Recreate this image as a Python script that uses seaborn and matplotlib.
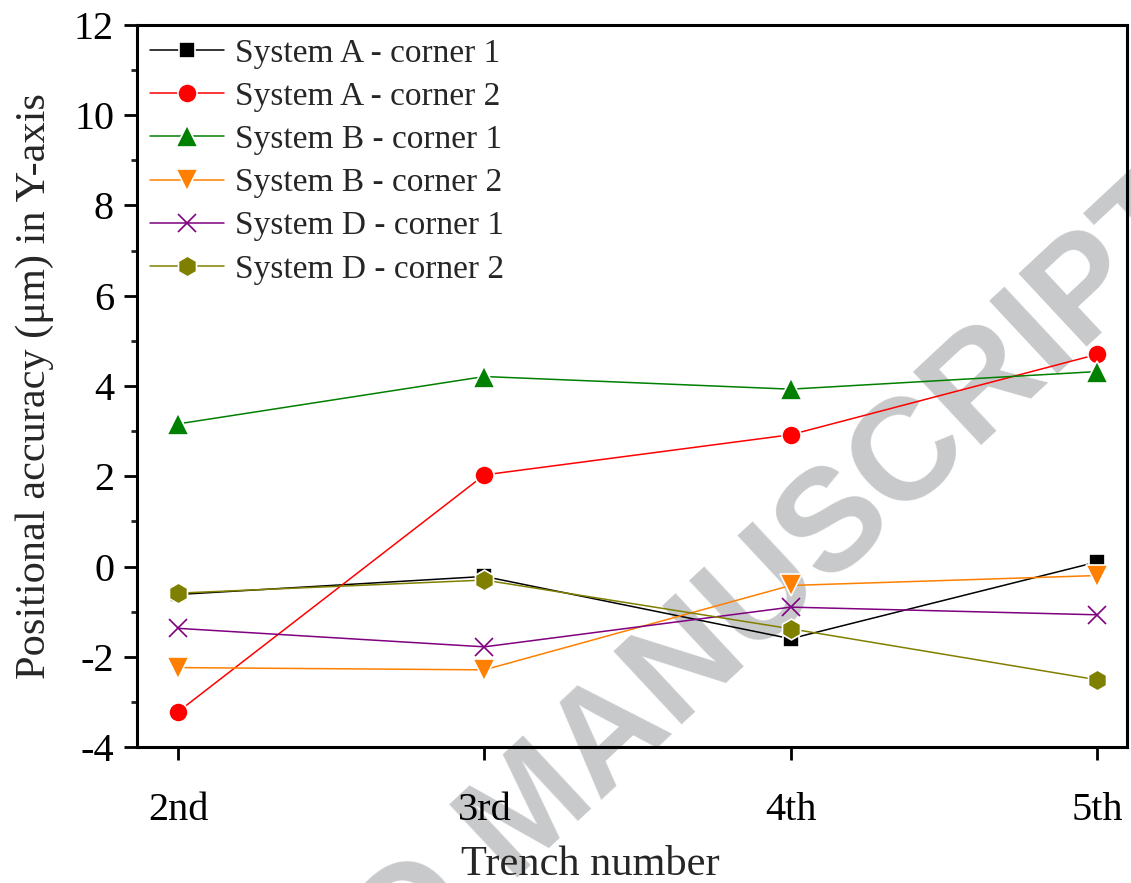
import pandas as pd
import matplotlib
matplotlib.use("Agg")
import matplotlib.pyplot as plt
import seaborn as sns
from matplotlib.ticker import MultipleLocator

# data
trenches = ['2nd', '3rd', '4th', '5th']
sys_a_c1 = [-0.62, -0.22, -1.60, 0.10]
sys_a_c2 = [-3.22, 2.03, 2.92, 4.70]
sys_b_c1 = [3.16, 4.21, 3.93, 4.32]
sys_b_c2 = [-2.24, -2.29, -0.42, -0.20]
sys_d_c1 = [-1.37, -1.78, -0.90, -1.07]
sys_d_c2 = [-0.59, -0.30, -1.38, -2.51]

labels = ['System A - corner 1', 'System A - corner 2', 'System B - corner 1',
          'System B - corner 2', 'System D - corner 1', 'System D - corner 2']
colors = ['#000000', '#ff0000', '#008000', '#ff8000', '#800080', '#808000']
markers = ['s', 'o', '^', 'v', 'x', 'h']
msizes = [12, 13.8, 16.5, 16.5, 13, 15]

series = [sys_a_c1, sys_a_c2, sys_b_c1, sys_b_c2, sys_d_c1, sys_d_c2]

sns.set_style("ticks")
plt.rcParams['font.family'] = ['Liberation Serif', 'DejaVu Serif']

fig = plt.figure(figsize=(11.31, 8.83), dpi=100)
ax = fig.add_axes([0.1211, 0.154, 0.8754, 0.8177])
ax.patch.set_alpha(0)

# watermark behind the plot
fig.text(0.4936, 0.0484, 'ACCEPTED MANUSCRIPT', rotation=43, rotation_mode='anchor',
         ha='center', va='baseline', fontsize=104, fontweight='bold',
         family='Liberation Sans', color='#c8c9cb', zorder=-5)

for vals, lab, col, mk, ms in zip(series, labels, colors, markers, msizes):
    df = pd.DataFrame({'Trench': trenches, 'Value': vals})
    if mk == 'x':
        sns.lineplot(data=df, x='Trench', y='Value', ax=ax, color=col, marker=mk,
                     markersize=ms, markeredgecolor=col, markeredgewidth=1.2,
                     linewidth=1.1, label=lab)
    else:
        sns.lineplot(data=df, x='Trench', y='Value', ax=ax, color=col, marker=mk,
                     markersize=ms, markeredgecolor='white', markeredgewidth=1.2,
                     linewidth=1.1, label=lab)

ax.set_xlim(-0.134, 3.098)
ax.set_ylim(-4, 12)
ax.yaxis.set_major_locator(MultipleLocator(2))
ax.yaxis.set_minor_locator(MultipleLocator(1))

for sp in ax.spines.values():
    sp.set_linewidth(2.2)
    sp.set_color('black')

ax.tick_params(axis='both', which='major', direction='out', length=9.5, width=2.0,
               labelsize=29, colors='black')
ax.tick_params(axis='y', which='major', pad=7)
ax.tick_params(axis='x', which='major', pad=23)
ax.tick_params(axis='y', which='minor', direction='out', length=4, width=2.0)
ax.set_yticklabels([f'{int(v)}' for v in ax.get_yticks()])

ax.set_xlabel('Trench number', fontsize=30.5)
ax.xaxis.set_label_coords(0.4576, -0.137)
ax.set_ylabel('Positional accuracy (μm) in Y-axis', fontsize=30.5, labelpad=14)

ax.legend(loc='upper left', frameon=False, fontsize=24, handlelength=2.2,
          handletextpad=0.35, labelspacing=0.38, borderaxespad=0.0, borderpad=0.4)

fig.savefig('out.png', dpi=100)
